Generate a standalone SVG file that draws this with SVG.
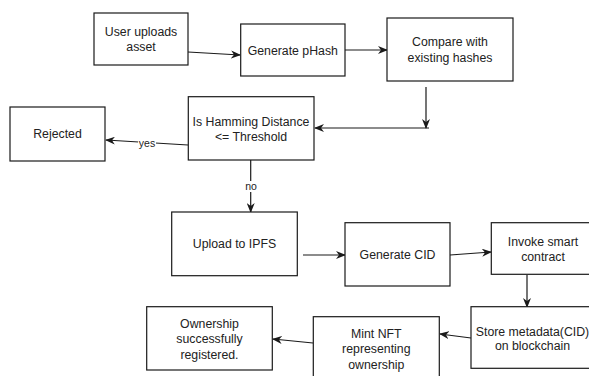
<svg xmlns="http://www.w3.org/2000/svg" width="589" height="376" viewBox="0 0 589 376">
<style>
.box{fill:#fff;stroke:#1a1a1a;stroke-width:1.2}
.t{font-family:"Liberation Sans",Arial,sans-serif;font-size:12.3px;fill:#222;text-anchor:middle}
.lbl{font-family:"Liberation Sans",Arial,sans-serif;font-size:10.5px;fill:#222;text-anchor:middle}
.c{fill:none;stroke:#1a1a1a;stroke-width:1.2}
</style>
<defs>
<marker id="arr" viewBox="0 0 10 8" refX="9" refY="4" markerWidth="10" markerHeight="8" markerUnits="userSpaceOnUse" orient="auto">
<path d="M0,0 L10,4 L0,8 L3,4 z" fill="#1a1a1a"/>
</marker>
</defs>
<rect width="589" height="376" fill="#fff"/>
<g id="connectors">
<path class="c" d="M188,52 L240,55" marker-end="url(#arr)"/>
<path class="c" d="M345,50 L387,50" marker-end="url(#arr)"/>
<path class="c" d="M426,87 L426,128" marker-end="url(#arr)"/>
<path class="c" d="M429,128 L315,128" marker-end="url(#arr)"/>
<path class="c" d="M188,145 L106,140" marker-end="url(#arr)"/>
<rect x="138" y="137" width="18" height="11" fill="#fff"/>
<text class="lbl" x="147" y="146.5">yes</text>
<path class="c" d="M250.7,160 L250.7,212" marker-end="url(#arr)"/>
<rect x="243" y="181" width="16" height="11" fill="#fff"/>
<text class="lbl" x="251" y="190">no</text>
<path class="c" d="M303,255 L345,255" marker-end="url(#arr)"/>
<path class="c" d="M450,255 L491,252" marker-end="url(#arr)"/>
<path class="c" d="M527,275 L527,307" marker-end="url(#arr)"/>
<path class="c" d="M471,338 L440,334" marker-end="url(#arr)"/>
<path class="c" d="M313,343 L273,339" marker-end="url(#arr)"/>
</g>
<g id="user-uploads">
<rect class="box" x="94" y="13" width="94" height="52"/>
<text class="t" x="141" y="35.5">User uploads</text>
<text class="t" x="141" y="50.5">asset</text>
</g>
<g id="generate-phash">
<rect class="box" x="240.7" y="24" width="104.3" height="52"/>
<text class="t" x="292.8" y="54.5">Generate pHash</text>
</g>
<g id="compare">
<rect class="box" x="387" y="18" width="126" height="63"/>
<text class="t" x="450" y="46">Compare with</text>
<text class="t" x="450" y="61.5">existing hashes</text>
</g>
<g id="decision">
<rect class="box" x="188.3" y="96.7" width="125.7" height="63.3"/>
<text class="t" x="251" y="126">Is Hamming Distance</text>
<text class="t" x="251" y="140.5">&lt;= Threshold</text>
</g>
<g id="rejected">
<rect class="box" x="10" y="107" width="95" height="54"/>
<text class="t" x="57.5" y="137.5">Rejected</text>
</g>
<g id="upload-ipfs">
<rect class="box" x="171.7" y="212" width="125.6" height="63.7"/>
<text class="t" x="234.5" y="247.5">Upload to IPFS</text>
</g>
<g id="generate-cid">
<rect class="box" x="345" y="222.7" width="105" height="63.3"/>
<text class="t" x="397.5" y="258.5">Generate CID</text>
</g>
<g id="invoke">
<rect class="box" x="491.3" y="222.7" width="104" height="51.6"/>
<text class="t" x="543" y="246">Invoke smart</text>
<text class="t" x="543" y="261">contract</text>
</g>
<g id="store">
<rect class="box" x="471" y="306.7" width="124" height="61.6"/>
<text class="t" x="532.5" y="336">Store metadata(CID)</text>
<text class="t" x="532.5" y="350">on blockchain</text>
</g>
<g id="mint">
<rect class="box" x="313.3" y="316.7" width="126" height="64"/>
<text class="t" x="376.3" y="337.5">Mint NFT</text>
<text class="t" x="376.3" y="353">representing</text>
<text class="t" x="376.3" y="369">ownership</text>
</g>
<g id="ownership">
<rect class="box" x="146.7" y="306.7" width="125.6" height="63.3"/>
<text class="t" x="209.5" y="327.5">Ownership</text>
<text class="t" x="209.5" y="343">successfully</text>
<text class="t" x="209.5" y="358.5">registered.</text>
</g>
</svg>
